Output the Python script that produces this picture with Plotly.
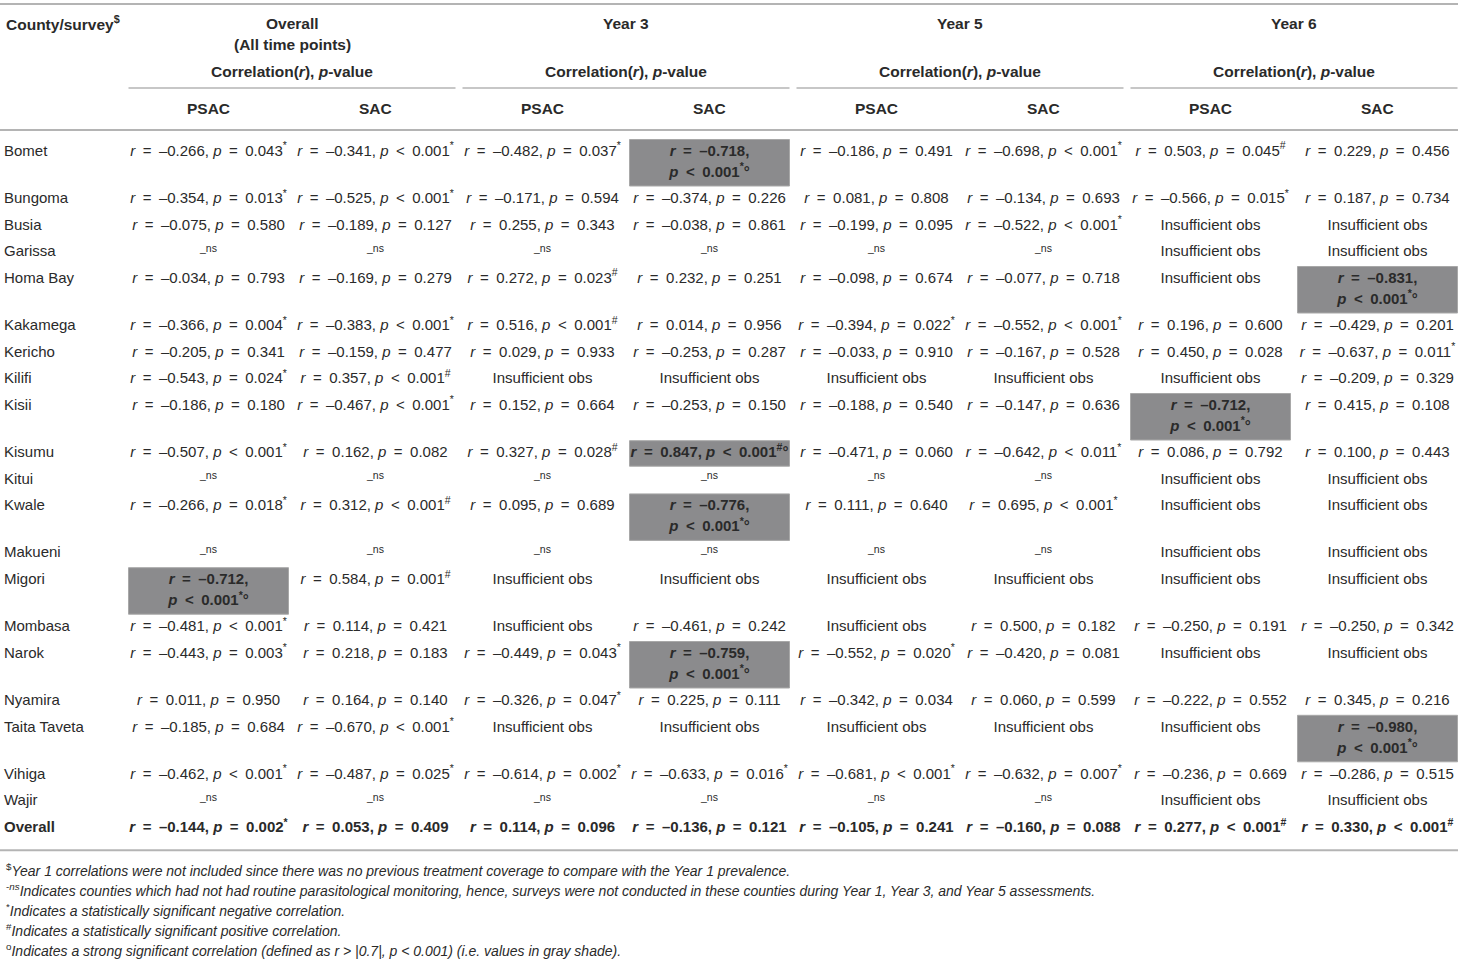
import plotly.graph_objects as go

# ---- data -------------------------------------------------------------
counties = ["Bomet", "Bungoma", "Busia", "Garissa", "Homa Bay", "Kakamega",
            "Kericho", "Kilifi", "Kisii", "Kisumu", "Kitui", "Kwale",
            "Makueni", "Migori", "Mombasa", "Narok", "Nyamira",
            "Taita Taveta", "Vihiga", "Wajir", "Overall"]

NS = "ns"    # no routine parasitological monitoring
INS = "ins"  # insufficient observations

# each cell: (r, comparison, p, marks)
overall_psac = [(-0.266, "=", 0.043, "*"), (-0.354, "=", 0.013, "*"), (-0.075, "=", 0.580, ""), NS,
                (-0.034, "=", 0.793, ""), (-0.366, "=", 0.004, "*"), (-0.205, "=", 0.341, ""),
                (-0.543, "=", 0.024, "*"), (-0.186, "=", 0.180, ""), (-0.507, "<", 0.001, "*"), NS,
                (-0.266, "=", 0.018, "*"), NS, (-0.712, "<", 0.001, "*°"), (-0.481, "<", 0.001, "*"),
                (-0.443, "=", 0.003, "*"), (0.011, "=", 0.950, ""), (-0.185, "=", 0.684, ""),
                (-0.462, "<", 0.001, "*"), NS, (-0.144, "=", 0.002, "*")]
overall_sac = [(-0.341, "<", 0.001, "*"), (-0.525, "<", 0.001, "*"), (-0.189, "=", 0.127, ""), NS,
               (-0.169, "=", 0.279, ""), (-0.383, "<", 0.001, "*"), (-0.159, "=", 0.477, ""),
               (0.357, "<", 0.001, "#"), (-0.467, "<", 0.001, "*"), (0.162, "=", 0.082, ""), NS,
               (0.312, "<", 0.001, "#"), NS, (0.584, "=", 0.001, "#"), (0.114, "=", 0.421, ""),
               (0.218, "=", 0.183, ""), (0.164, "=", 0.140, ""), (-0.670, "<", 0.001, "*"),
               (-0.487, "=", 0.025, "*"), NS, (0.053, "=", 0.409, "")]
y3_psac = [(-0.482, "=", 0.037, "*"), (-0.171, "=", 0.594, ""), (0.255, "=", 0.343, ""), NS,
           (0.272, "=", 0.023, "#"), (0.516, "<", 0.001, "#"), (0.029, "=", 0.933, ""), INS,
           (0.152, "=", 0.664, ""), (0.327, "=", 0.028, "#"), NS, (0.095, "=", 0.689, ""), NS,
           INS, INS, (-0.449, "=", 0.043, "*"), (-0.326, "=", 0.047, "*"), INS,
           (-0.614, "=", 0.002, "*"), NS, (0.114, "=", 0.096, "")]
y3_sac = [(-0.718, "<", 0.001, "*°"), (-0.374, "=", 0.226, ""), (-0.038, "=", 0.861, ""), NS,
          (0.232, "=", 0.251, ""), (0.014, "=", 0.956, ""), (-0.253, "=", 0.287, ""), INS,
          (-0.253, "=", 0.150, ""), (0.847, "<", 0.001, "#°"), NS, (-0.776, "<", 0.001, "*°"), NS,
          INS, (-0.461, "=", 0.242, ""), (-0.759, "<", 0.001, "*°"), (0.225, "=", 0.111, ""), INS,
          (-0.633, "=", 0.016, "*"), NS, (-0.136, "=", 0.121, "")]
y5_psac = [(-0.186, "=", 0.491, ""), (0.081, "=", 0.808, ""), (-0.199, "=", 0.095, ""), NS,
           (-0.098, "=", 0.674, ""), (-0.394, "=", 0.022, "*"), (-0.033, "=", 0.910, ""), INS,
           (-0.188, "=", 0.540, ""), (-0.471, "=", 0.060, ""), NS, (0.111, "=", 0.640, ""), NS,
           INS, INS, (-0.552, "=", 0.020, "*"), (-0.342, "=", 0.034, ""), INS,
           (-0.681, "<", 0.001, "*"), NS, (-0.105, "=", 0.241, "")]
y5_sac = [(-0.698, "<", 0.001, "*"), (-0.134, "=", 0.693, ""), (-0.522, "<", 0.001, "*"), NS,
          (-0.077, "=", 0.718, ""), (-0.552, "<", 0.001, "*"), (-0.167, "=", 0.528, ""), INS,
          (-0.147, "=", 0.636, ""), (-0.642, "<", 0.011, "*"), NS, (0.695, "<", 0.001, "*"), NS,
          INS, (0.500, "=", 0.182, ""), (-0.420, "=", 0.081, ""), (0.060, "=", 0.599, ""), INS,
          (-0.632, "=", 0.007, "*"), NS, (-0.160, "=", 0.088, "")]
y6_psac = [(0.503, "=", 0.045, "#"), (-0.566, "=", 0.015, "*"), INS, INS, INS,
           (0.196, "=", 0.600, ""), (0.450, "=", 0.028, ""), INS, (-0.712, "<", 0.001, "*°"),
           (0.086, "=", 0.792, ""), INS, INS, INS, INS, (-0.250, "=", 0.191, ""), INS,
           (-0.222, "=", 0.552, ""), INS, (-0.236, "=", 0.669, ""), INS, (0.277, "<", 0.001, "#")]
y6_sac = [(0.229, "=", 0.456, ""), (0.187, "=", 0.734, ""), INS, INS, (-0.831, "<", 0.001, "*°"),
          (-0.429, "=", 0.201, ""), (-0.637, "=", 0.011, "*"), (-0.209, "=", 0.329, ""),
          (0.415, "=", 0.108, ""), (0.100, "=", 0.443, ""), INS, INS, INS, INS,
          (-0.250, "=", 0.342, ""), INS, (0.345, "=", 0.216, ""), (-0.980, "<", 0.001, "*°"),
          (-0.286, "=", 0.515, ""), INS, (0.330, "<", 0.001, "#")]

columns = [overall_psac, overall_sac, y3_psac, y3_sac, y5_psac, y5_sac, y6_psac, y6_sac]
groups = ["Overall", "Year 3", "Year 5", "Year 6"]
subheaders = ["PSAC", "SAC"]

footnotes = [
    "<sup>$</sup><i>Year 1 correlations were not included since there was no previous treatment "
    "coverage to compare with the Year 1 prevalence.</i>",
    "<sup>-<i>ns</i></sup><i>Indicates counties which had not had routine parasitological monitoring, "
    "hence, surveys were not conducted in these counties during Year 1, Year 3, and Year 5 assessments.</i>",
    "<sup>*</sup><i>Indicates a statistically significant negative correlation.</i>",
    "<sup>#</sup><i>Indicates a statistically significant positive correlation.</i>",
    "<sup>o</sup><i>Indicates a strong significant correlation (defined as r &gt; |0.7|, "
    "p &lt; 0.001) (i.e. values in gray shade).</i>",
]

# ---- layout constants ---------------------------------------------------
W, H = 1461, 964
FONT = "Liberation Sans, Arial, sans-serif"
INK = "#2a2a2a"
RULE = "#b4b4b4"
SHADE = "#8b8b8d"
SP = "\u2002"
COL0, COLW = 208.5, 167
ROW0, ROW1, ROW2, LINE2 = 152, 26.6, 47.2, 21


def is_cell(c):
    return isinstance(c, tuple)


def is_strong(c):
    return is_cell(c) and "°" in c[3]


def num(v):
    s = f"{abs(v):.3f}"
    return "–" + s if v < 0 else s


def marks(m):
    sym = m.replace("°", "")
    out = f"<sup>{sym}</sup>" if sym else ""
    return out + ("°" if "°" in m else "")


def parts(c):
    r, op, p, m = c
    op = "&lt;" if op == "<" else op
    return (f"<i>r</i>{SP}={SP}{num(r)},",
            f"<i>p</i>{SP}{op}{SP}{p:.3f}{marks(m)}")


n = len(counties)
wrapped = [any(is_strong(col[i]) and col[i][0] < 0 for col in columns) for i in range(n)]
row_y = []
y = ROW0
for i in range(n):
    row_y.append(y)
    y += ROW2 if wrapped[i] else ROW1
col_x = [COL0 + j * COLW for j in range(len(columns))]
bottom = row_y[-1] + 22

fig = go.Figure()
shapes = []

tx, ty, tt = [], [], []
nx, ny = [], []
for j, col in enumerate(columns):
    for i, c in enumerate(col):
        x, yy = col_x[j], row_y[i]
        bold = counties[i] == "Overall" or is_strong(c)
        if c == NS:
            nx.append(x)
            ny.append(yy - 3)
            continue
        if c == INS:
            tx.append(x); ty.append(yy); tt.append("Insufficient obs")
            continue
        a, b = parts(c)
        wrap = is_strong(c) and c[0] < 0
        if bold:
            a, b = f"<b>{a}</b>", f"<b>{b}</b>"
        if wrap:
            tx += [x, x]; ty += [yy, yy + LINE2]; tt += [a, b]
        else:
            tx.append(x); ty.append(yy); tt.append(a + " " + b)
        if is_strong(c):
            shapes.append(dict(type="rect", xref="x", yref="y", layer="below",
                               x0=x - 80, x1=x + 80, y0=yy - 12.5,
                               y1=yy + 13 + (LINE2 if wrap else 0),
                               fillcolor=SHADE, line=dict(color="#a8a8a8", width=1)))

fig.add_trace(go.Scatter(x=tx, y=ty, text=tt, mode="text", textposition="middle center",
                         textfont=dict(family=FONT, size=15, color=INK),
                         hoverinfo="skip", showlegend=False))
fig.add_trace(go.Scatter(x=nx, y=ny, text=["_ns"] * len(nx), mode="text",
                         textposition="middle center",
                         textfont=dict(family=FONT, size=10.5, color=INK),
                         hoverinfo="skip", showlegend=False))
fig.add_trace(go.Scatter(x=[4] * n, y=row_y,
                         text=[f"<b>{c}</b>" if c == "Overall" else c for c in counties],
                         mode="text", textposition="middle right",
                         textfont=dict(family=FONT, size=15, color=INK),
                         hoverinfo="skip", showlegend=False))

# ---- header -------------------------------------------------------------
hfont = dict(family=FONT, size=15.5, color=INK)
ann = [dict(x=4, y=23, text="<b>County/survey<sup>$</sup></b>", xanchor="left")]
for g, name in enumerate(groups):
    gx = (col_x[2 * g] + col_x[2 * g + 1]) / 2
    ann.append(dict(x=gx, y=23, text=f"<b>{name}</b>"))
    if name == "Overall":
        ann.append(dict(x=gx, y=44, text="<b>(All time points)</b>"))
    ann.append(dict(x=gx, y=71, text="<b>Correlation(<i>r</i>), <i>p</i>-value</b>"))
    shapes.append(dict(type="line", xref="x", yref="y", x0=gx - 163.5,
                       x1=min(gx + 163.5, W - 3), y0=88, y1=88,
                       line=dict(color=RULE, width=1.5)))
    for k, s in enumerate(subheaders):
        ann.append(dict(x=col_x[2 * g + k], y=108, text=f"<b>{s}</b>"))

for a in ann:
    a.setdefault("xanchor", "center")
    a.update(xref="x", yref="y", yanchor="middle", showarrow=False, font=hfont)

for k, t in enumerate(footnotes):
    ann.append(dict(x=4, y=bottom + 20 + 20 * k, text=t, xref="x", yref="y",
                    xanchor="left", yanchor="middle", showarrow=False,
                    font=dict(family=FONT, size=14, color=INK)))

for yy in (4, 130, bottom):
    shapes.append(dict(type="line", xref="x", yref="y", x0=0, x1=W - 3, y0=yy, y1=yy,
                       line=dict(color=RULE, width=2)))

fig.update_layout(width=W, height=H, margin=dict(l=0, r=0, t=0, b=0),
                  paper_bgcolor="white", plot_bgcolor="white",
                  xaxis=dict(range=[0, W], visible=False, fixedrange=True),
                  yaxis=dict(range=[H, 0], visible=False, fixedrange=True),
                  shapes=shapes, annotations=ann)

# the page's default 8px body margin would push the table off its frame
fig.write_html("out.html", config={"displayModeBar": False},
               post_script="document.body.style.margin='0';"
                           "document.body.style.overflow='hidden';")
